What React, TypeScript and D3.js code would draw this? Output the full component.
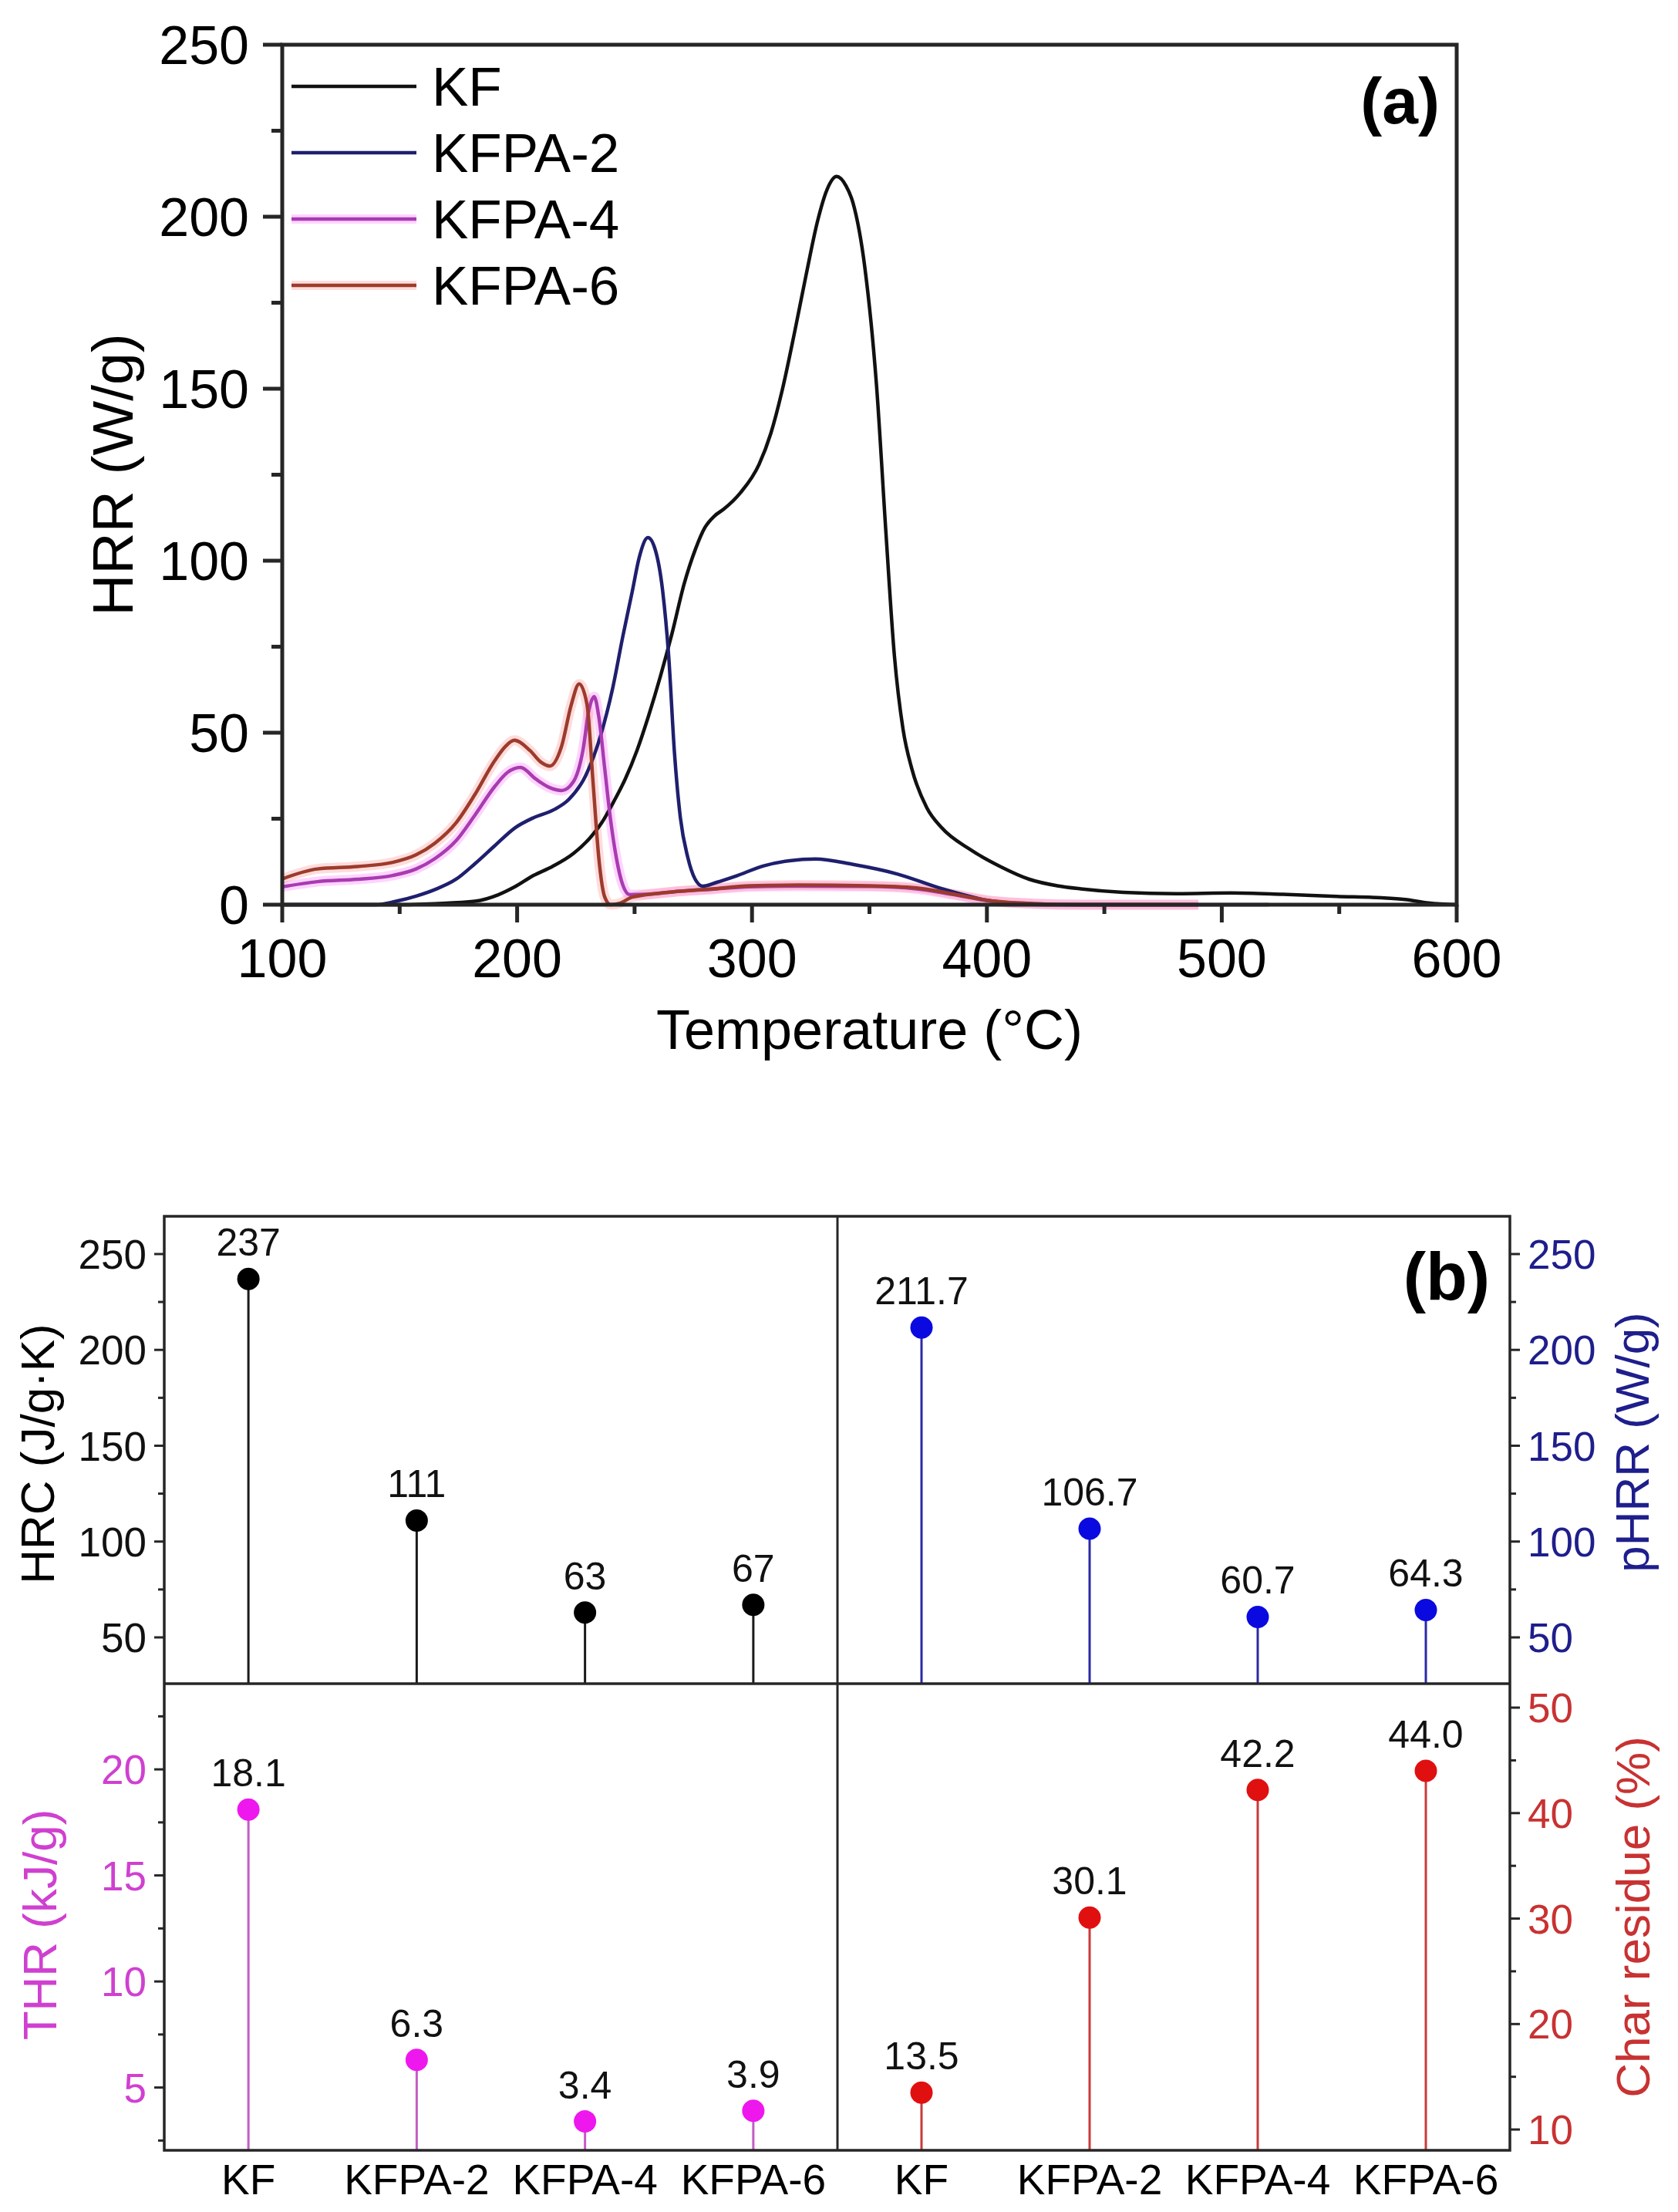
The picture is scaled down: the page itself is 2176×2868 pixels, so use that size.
import React from 'react';
import * as d3 from 'd3';

type Pt = [number, number];

// ---- (a) HRR curves, [temperature °C, HRR W/g] ----
const kfCurve: Pt[] = [
  [100, 0], [150, 0], [165, 0.3], [182, 1], [192, 2.9], [199, 5.2], [207, 8.5], [215, 11.1],
  [224, 14.9], [231, 19.4], [236, 23.8], [241, 29.8], [246, 36.5], [251, 44.8], [256, 55],
  [261, 66.4], [266, 79], [271, 93], [276, 103.5], [280, 109.7], [284, 113], [288, 115],
  [295, 119.7], [303, 128], [308, 137], [313, 150], [318, 166], [323, 183], [328, 199],
  [332, 208], [336, 211.7], [340, 209], [343, 204], [348, 185.4], [353, 151], [357, 108.3],
  [360.6, 72.5], [364.3, 51], [368, 39.6], [374.4, 28.2], [380.7, 22.4], [393, 16], [406, 11],
  [418, 7.4], [430, 5.5], [440, 4.6], [458, 3.6], [481, 3.2], [504, 3.4], [526, 3.0],
  [549, 2.4], [568, 2.0], [578, 1.5], [588, 0.5], [600, 0],
];

const kfpa2Curve: Pt[] = [
  [100, 0], [140, 0], [148.5, 1], [157, 2.5], [165, 4.4], [174, 7.4], [182, 11.9], [190.4, 17.1],
  [199, 22.3], [207, 25.3], [215.6, 27.6], [222, 30.6], [229, 37.3], [235.6, 49.3], [240.7, 63],
  [245, 78], [249, 91], [252, 101], [255.7, 106.7], [258.8, 103.2], [262, 91],
  [264.5, 72.5], [267, 44], [269.5, 25.3], [272.6, 13.9], [275.8, 7.4], [279, 5.4], [285, 6.5],
  [292.7, 8.2], [305, 11.3], [316, 12.8], [327, 13.3], [343, 11.7], [362, 8.9], [381, 4.6],
  [400, 1.3], [412, 0.3], [425, 0], [520, 0],
];

const kfpa4Curve: Pt[] = [
  [100, 5.2], [115, 6.7], [132, 7.4], [147, 8.5], [157, 10.4], [165, 13.4], [174, 18.6], [182, 26],
  [190.4, 34.3], [196, 38.5], [201.4, 39.9], [208, 36.5], [214, 34], [219, 33.2], [224, 35.8],
  [228, 44.8], [230.6, 56.7], [232.8, 60.5], [234.8, 54.5], [237.3, 39.5], [239.8, 24.6],
  [242.3, 13.4], [244.9, 5.9], [248, 2.9], [255, 3.0], [266, 3.7], [283, 4.5], [299, 5.2],
  [320, 5.4], [350, 5.3], [370, 4.6], [385, 3], [400, 1.2], [420, 0.3], [440, 0], [490, 0],
];

const kfpa6Curve: Pt[] = [
  [100, 7.5], [115, 10.4], [132, 11.1], [147, 12.3], [157, 14.5], [165, 17.9], [174, 23.8], [182, 32],
  [190.4, 41.8], [195, 46], [198.8, 47.8], [205.5, 44.8], [210, 41.5], [213.9, 40.3], [218.9, 46],
  [223, 58], [226.4, 64.2], [229.8, 58], [232.3, 35.8], [234.8, 13.4], [237.3, 2.2], [239.8, 0],
  [244, 0.5], [249, 2.2], [266, 3.7], [283, 4.6], [299, 5.5], [320, 5.7], [350, 5.5], [370, 4.9],
  [385, 3.2], [400, 1.3], [420, 0.3], [440, 0], [490, 0],
];

const seriesNames = ['KF', 'KFPA-2', 'KFPA-4', 'KFPA-6'];
const seriesColors = ['#111111', '#1f1f6e', '#a83cb0', '#9c3b2c'];
const seriesGlow = ['none', 'none', '#ff70ff', '#ff8c8c'];

const tempTicks = [100, 200, 300, 400, 500, 600];
const tempMinor = [150, 250, 350, 450, 550];
const hrrTicks = [0, 50, 100, 150, 200, 250];
const hrrMinor = [25, 75, 125, 175, 225];

// ---- (b) cone / MCC summary values ----
const samples = ['KF', 'KFPA-2', 'KFPA-4', 'KFPA-6'];
const hrcValues = [237, 111, 63, 67];
const phrrValues = [211.7, 106.7, 60.7, 64.3];
const thrValues = [18.1, 6.3, 3.4, 3.9];
const charValues = [13.5, 30.1, 42.2, 44.0];

const hrcTicks = [50, 100, 150, 200, 250];
const hrcMinor = [75, 125, 175, 225];
const thrTicks = [5, 10, 15, 20];
const thrMinor = [2.5, 7.5, 12.5, 17.5, 22.5];
const charTicks = [10, 20, 30, 40, 50];
const charMinor = [15, 25, 35, 45];

const FONT = '"Liberation Sans", Arial, Helvetica, sans-serif';
const AXIS = '#262626';

const App = () => {
  // top chart
  const x = d3.scaleLinear().domain([100, 600]).range([366, 1889]);
  const y = d3.scaleLinear().domain([0, 250]).range([1173, 58]);
  const line = d3.line<Pt>().x(d => x(d[0])).y(d => y(d[1])).curve(d3.curveMonotoneX);
  const curves = [kfCurve, kfpa2Curve, kfpa4Curve, kfpa6Curve];

  // bottom chart frame
  const L = 213, M = 1086, R = 1958, T = 1577, MID = 2183, B = 2788;
  const xl = d3.scalePoint<string>().domain(samples).range([L, M]).padding(0.5);
  const xr = d3.scalePoint<string>().domain(samples).range([M, R]).padding(0.5);
  const yHrc = d3.scaleLinear().domain([25.85, 269.7]).range([MID, T]);
  const yPhrr = d3.scaleLinear().domain([25.85, 269.7]).range([MID, T]);
  const yThr = d3.scaleLinear().domain([2.04, 24.04]).range([B, MID]);
  const yChar = d3.scaleLinear().domain([8.03, 52.27]).range([B, MID]);

  const panels = [
    { vals: hrcValues, xs: xl, ys: yHrc, bottom: MID, stem: '#1a1a1a', dot: '#000000', fmt: (v: number) => String(v) },
    { vals: phrrValues, xs: xr, ys: yPhrr, bottom: MID, stem: '#2a2aa6', dot: '#0a0ae0', fmt: (v: number) => v.toFixed(1) },
    { vals: thrValues, xs: xl, ys: yThr, bottom: B, stem: '#c45cc4', dot: '#ee18ee', fmt: (v: number) => v.toFixed(1) },
    { vals: charValues, xs: xr, ys: yChar, bottom: B, stem: '#c83a3a', dot: '#e01010', fmt: (v: number) => v.toFixed(1) },
  ];

  const axes = [
    { side: 'left', ys: yHrc, major: hrcTicks, minor: hrcMinor, color: '#111111' },
    { side: 'right', ys: yPhrr, major: hrcTicks, minor: hrcMinor, color: '#1e1e8c' },
    { side: 'left', ys: yThr, major: thrTicks, minor: thrMinor, color: '#d040d0' },
    { side: 'right', ys: yChar, major: charTicks, minor: charMinor, color: '#c83232' },
  ];

  return (
    <svg width={2176} height={2868} style={{ position: 'absolute', left: 0, top: 0, display: 'block' }}
      fontFamily={FONT}>
      <rect width={2176} height={2868} fill="#fff" />

      {/* ---------- (a) ---------- */}
      <g>
        {curves.map((c, i) => seriesGlow[i] !== 'none' && (
          <path key={'g' + i} d={line(c) || ''} fill="none" stroke={seriesGlow[i]}
            strokeOpacity={0.3} strokeWidth={13} strokeLinejoin="round" />
        ))}
        {curves.map((c, i) => (
          <path key={'c' + i} d={line(c) || ''} fill="none" stroke={seriesColors[i]}
            strokeWidth={4.5} strokeLinejoin="round" />
        ))}

        <rect x={x(100)} y={y(250)} width={x(600) - x(100)} height={y(0) - y(250)}
          fill="none" stroke={AXIS} strokeWidth={5} />

        {hrrTicks.map(t => (
          <g key={'yt' + t}>
            <line x1={x(100) - 25} x2={x(100)} y1={y(t)} y2={y(t)} stroke={AXIS} strokeWidth={5} />
            <text x={x(100) - 43} y={y(t)} dy="0.36em" textAnchor="end" fontSize={70}>{t}</text>
          </g>
        ))}
        {hrrMinor.map(t => (
          <line key={'ym' + t} x1={x(100) - 14} x2={x(100)} y1={y(t)} y2={y(t)} stroke={AXIS} strokeWidth={5} />
        ))}
        {tempTicks.map(t => (
          <g key={'xt' + t}>
            <line x1={x(t)} x2={x(t)} y1={y(0)} y2={y(0) + 23} stroke={AXIS} strokeWidth={5} />
            <text x={x(t)} y={1267} textAnchor="middle" fontSize={70}>{t}</text>
          </g>
        ))}
        {tempMinor.map(t => (
          <line key={'xm' + t} x1={x(t)} x2={x(t)} y1={y(0)} y2={y(0) + 12} stroke={AXIS} strokeWidth={5} />
        ))}

        <text x={(x(100) + x(600)) / 2} y={1360} textAnchor="middle" fontSize={72}>Temperature (°C)</text>
        <text transform={`translate(172,${(y(0) + y(250)) / 2}) rotate(-90)`} textAnchor="middle" fontSize={75}>
          HRR (W/g)
        </text>

        {seriesNames.map((n, i) => (
          <g key={'lg' + n}>
            {seriesGlow[i] !== 'none' && (
              <line x1={378} x2={540} y1={112 + i * 86} y2={112 + i * 86} stroke={seriesGlow[i]}
                strokeOpacity={0.3} strokeWidth={12} />
            )}
            <line x1={378} x2={540} y1={112 + i * 86} y2={112 + i * 86} stroke={seriesColors[i]} strokeWidth={4.5} />
            <text x={560} y={137 + i * 86} fontSize={71}>{n}</text>
          </g>
        ))}
        <text x={1867} y={160} textAnchor="end" fontSize={84} fontWeight="bold">(a)</text>
      </g>

      {/* ---------- (b) ---------- */}
      <g>
        {panels.map((p, pi) => (
          <g key={'p' + pi}>
            {p.vals.map((v, i) => {
              const cx = p.xs(samples[i]) as number;
              const cy = p.ys(v);
              return (
                <g key={i}>
                  <line x1={cx} x2={cx} y1={cy} y2={p.bottom} stroke={p.stem} strokeWidth={3} />
                  <circle cx={cx} cy={cy} r={14.5} fill={p.dot} />
                  <text x={cx} y={cy - 30} textAnchor="middle" fontSize={50} fill="#111">{p.fmt(v)}</text>
                </g>
              );
            })}
          </g>
        ))}

        <rect x={L} y={T} width={R - L} height={B - T} fill="none" stroke={AXIS} strokeWidth={3.5} />
        <line x1={L} x2={R} y1={MID} y2={MID} stroke={AXIS} strokeWidth={3.5} />
        <line x1={M} x2={M} y1={T} y2={B} stroke={AXIS} strokeWidth={3} />

        {axes.map((a, ai) => {
          const x0 = a.side === 'left' ? L : R;
          const dir = a.side === 'left' ? -1 : 1;
          return (
            <g key={'ax' + ai}>
              {a.major.map(t => (
                <g key={'M' + t}>
                  <line x1={x0} x2={x0 + dir * 13} y1={a.ys(t)} y2={a.ys(t)} stroke={AXIS} strokeWidth={3} />
                  <text x={x0 + dir * 23} y={a.ys(t)} dy="0.36em" textAnchor={a.side === 'left' ? 'end' : 'start'}
                    fontSize={53} fill={a.color}>{t}</text>
                </g>
              ))}
              {a.minor.map(t => (
                <line key={'m' + t} x1={x0} x2={x0 + dir * 8} y1={a.ys(t)} y2={a.ys(t)} stroke={AXIS} strokeWidth={3} />
              ))}
            </g>
          );
        })}

        {samples.map(s => (
          <g key={'cat' + s}>
            <text x={xl(s)} y={2845} textAnchor="middle" fontSize={55}>{s}</text>
            <text x={xr(s)} y={2845} textAnchor="middle" fontSize={55}>{s}</text>
          </g>
        ))}

        <text transform={`translate(70,${(T + MID) / 2 + 5}) rotate(-90)`} textAnchor="middle" fontSize={62}>
          HRC (J/g·K)
        </text>
        <text transform={`translate(73,${(MID + B) / 2 + 10}) rotate(-90)`} textAnchor="middle" fontSize={62}
          fill="#d040d0">THR (kJ/g)</text>
        <text transform={`translate(2138,${(T + MID) / 2 - 10}) rotate(-90)`} textAnchor="middle" fontSize={62}
          fill="#1e1e8c">pHRR (W/g)</text>
        <text transform={`translate(2139,${(MID + B) / 2}) rotate(-90)`} textAnchor="middle" fontSize={62}
          fill="#c83232">Char residue (%)</text>

        <text x={1932} y={1685} textAnchor="end" fontSize={88} fontWeight="bold">(b)</text>
      </g>
    </svg>
  );
};

export default App;
